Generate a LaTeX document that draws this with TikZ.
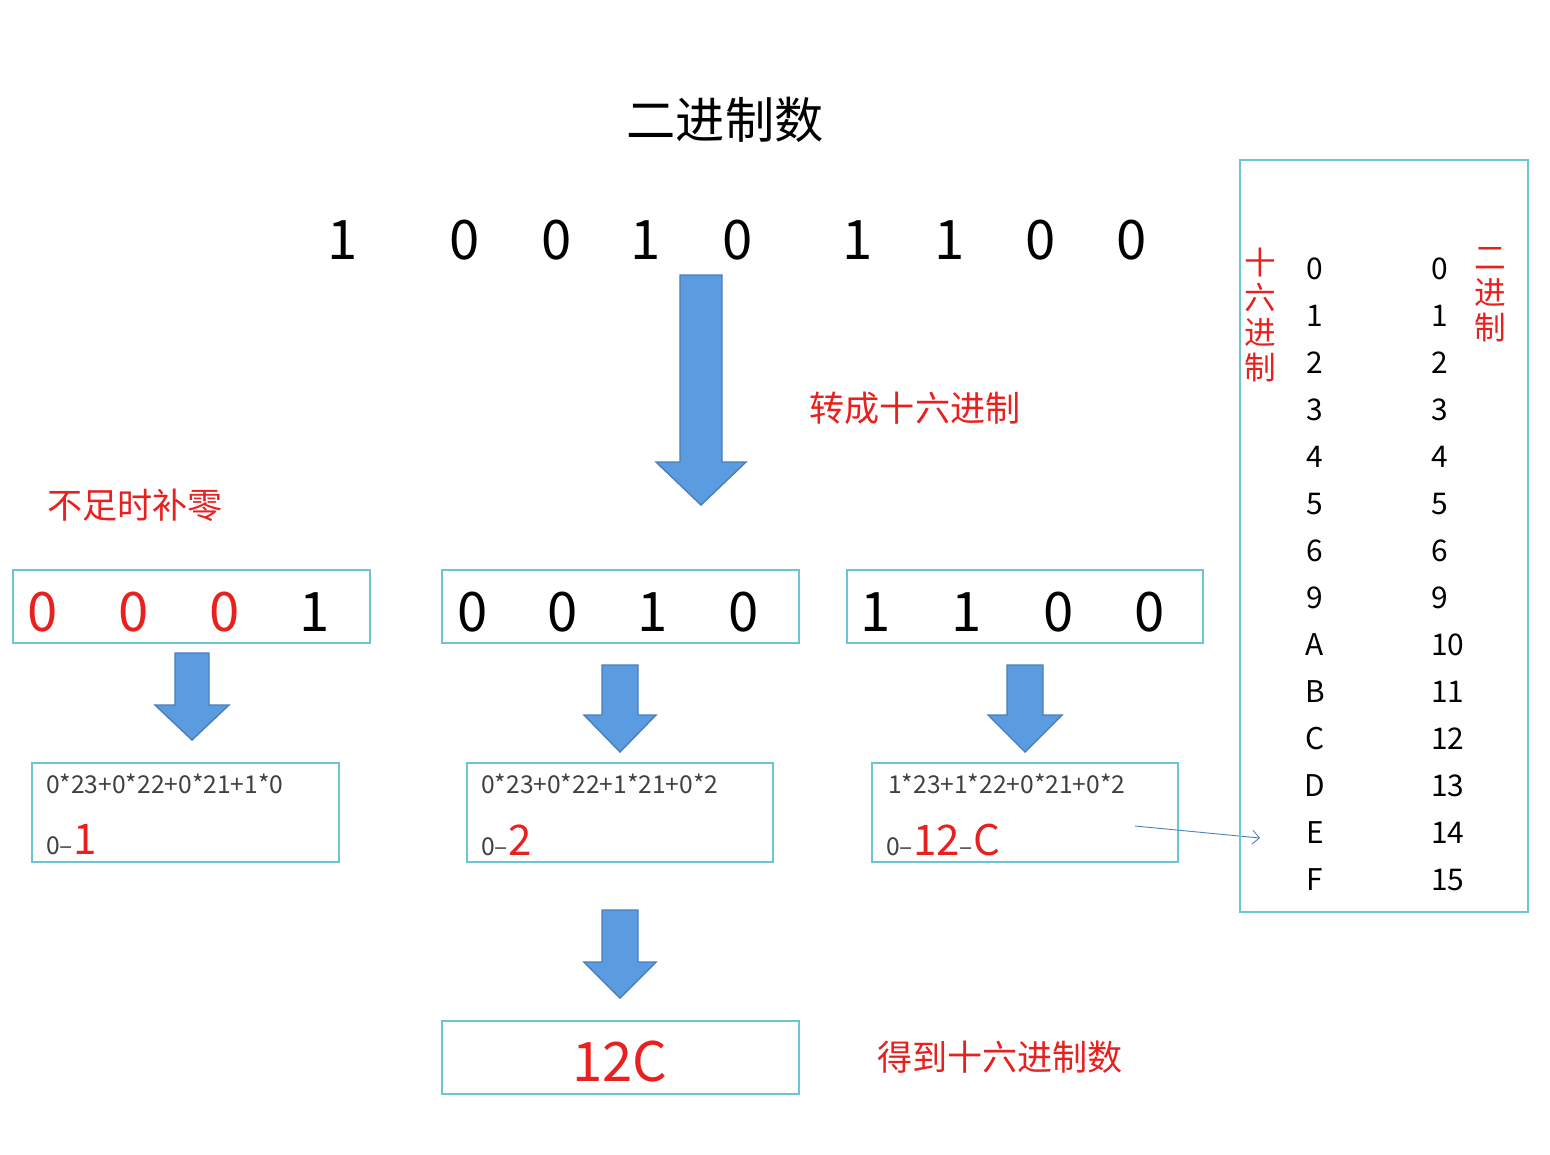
\documentclass[tikz,border=0pt]{standalone}
\usepackage{fontspec}
\setmainfont{Noto Sans CJK SC}
\usetikzlibrary{arrows.meta}
\definecolor{boxline}{HTML}{6CC5D3}
\definecolor{arrfill}{HTML}{5B9BE0}
\definecolor{arrline}{HTML}{4A7EBB}
\definecolor{hired}{HTML}{E8201E}
\tikzset{
  frame/.style={draw=boxline,line width=1.5pt},
  blk/.style={fill=arrfill,draw=arrline,line width=0.8pt},
  bigdig/.style={font=\fontsize{31}{31}\selectfont},
  redlab/.style={text=hired,font=\fontsize{20}{20}\selectfont},
  tab/.style={font=\fontsize{17}{17}\selectfont},
  form/.style={anchor=west,text=black!75,font=\fontsize{14}{14}\selectfont}
}
% block arrow: x, top, head, tip, half shaft, half head
\newcommand{\blkarrow}[6]{\draw[blk] (#1-#5,#2) -- (#1+#5,#2) -- (#1+#5,#3) -- (#1+#6,#3) -- (#1,#4) -- (#1-#6,#3) -- (#1-#5,#3) -- cycle;}
\begin{document}
\begin{tikzpicture}[x=0.02cm,y=-0.02cm]
\useasboundingbox (0,0) rectangle (1550,1154);
% title and bits
\node[font=\fontsize{28}{28}\selectfont] (title) at (725,120) {二进制数};
\foreach \x/\d [count=\i] in {343/1,465/0,557/0,646/1,738/0,858/1,950/1,1041/0,1132/0}
  \node[bigdig] (b\i) at (\x,240) {\d};
\blkarrow{701}{275}{462}{505}{21}{45}
\node[redlab] (conv) at (915,408) {转成十六进制};
\node[redlab] (pad) at (135,505) {不足时补零};
% groups of four
\draw[frame] (13,570) rectangle (370,643);
\draw[frame] (442,570) rectangle (799,643);
\draw[frame] (847,570) rectangle (1203,643);
\foreach \x/\d/\c [count=\i] in {43/0/hired,134/0/hired,225/0/hired,315/1/black,
  473/0/black,563/0/black,653/1/black,744/0/black,876/1/black,967/1/black,1059/0/black,1150/0/black}
  \node[bigdig,text=\c] (g\i) at (\x,612) {\d};
\blkarrow{192}{653}{705}{740}{17}{37}
\blkarrow{620}{665}{715}{752}{18}{36}
\blkarrow{1025}{665}{715}{752}{18}{37}
% sums
\draw[frame] (32,763) rectangle (339,862);
\draw[frame] (467,763) rectangle (773,862);
\draw[frame] (872,763) rectangle (1178,862);
\node[form] (f1) at (40,784) {0*23+0*22+0*21+1*0};
\node[form] (f2) at (475,784) {0*23+0*22+1*21+0*2};
\node[form] (f3) at (882,784) {1*23+1*22+0*21+0*2};
\node[form] (r1) at (40,840) {0–\textcolor{hired}{\fontsize{24}{24}\selectfont 1}};
\node[form] (r2) at (475,840) {0–\textcolor{hired}{\fontsize{24}{24}\selectfont 2}};
\node[form] (r3) at (880,840) {0–\textcolor{hired}{\fontsize{24}{24}\selectfont 12}–\textcolor{hired}{\fontsize{24}{24}\selectfont C}};
\coordinate (pt1) at (1135,826);
\coordinate (pt2) at (1260,838);
\draw[arrline,line width=0.5pt,-{Straight Barb[length=4pt]}] (pt1) -- (pt2);
% result
\blkarrow{620}{910}{962}{998}{18}{36}
\draw[frame] (442,1021) rectangle (799,1094);
\node[bigdig,text=hired] (res) at (620,1062) {12C};
\node[redlab] (got) at (1000,1057) {得到十六进制数};
% table
\draw[frame] (1240,160) rectangle (1528,912);
\node[redlab,align=center,inner sep=0pt,font=\fontsize{18}{20}\selectfont] (hexlab) at (1260,315) {十\\六\\进\\制};
\node[redlab,align=center,inner sep=0pt,font=\fontsize{18}{20}\selectfont] (binlab) at (1490,295) {二\\进\\制};
\foreach \h/\b [count=\i] in {0/0,1/1,2/2,3/3,4/4,5/5,6/6,9/9,A/10,B/11,C/12,D/13,E/14,F/15} {
  \node[tab] (h\i) at (1315,222+47*\i) {\h};
  \node[tab,anchor=west] (v\i) at (1425,222+47*\i) {\b};
}
\end{tikzpicture}
\end{document}
